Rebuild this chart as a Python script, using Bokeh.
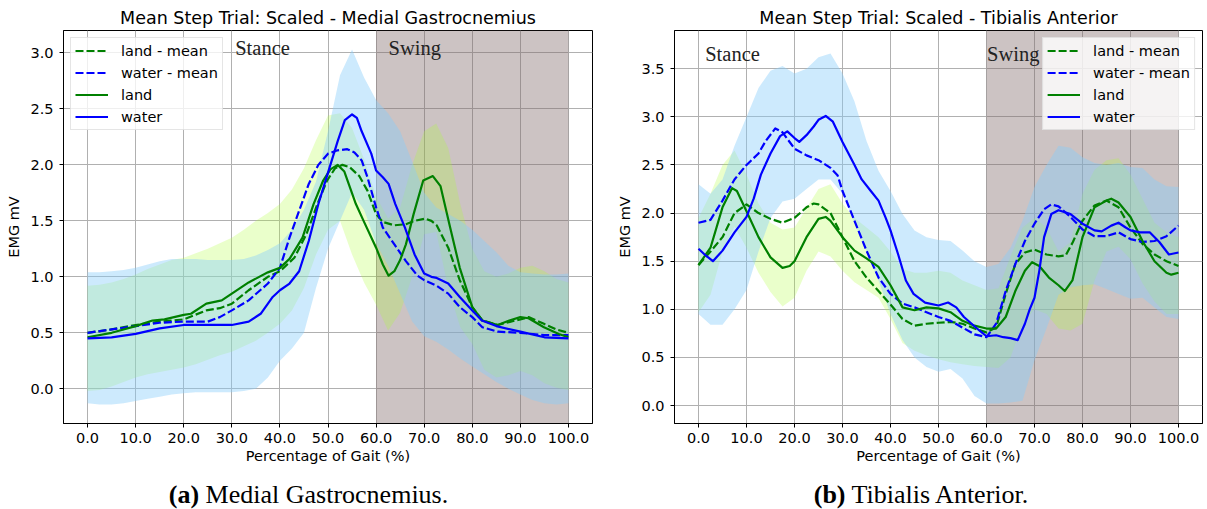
from bokeh.plotting import figure
from bokeh.layouts import row, column
from bokeh.models import (Range1d, FixedTicker, NumeralTickFormatter, Label,
                          BoxAnnotation, Legend, LegendItem, Div)
from bokeh.embed import file_html
from bokeh.resources import INLINE

# ---------------- data ----------------
x_ticks = [0, 10, 20, 30, 40, 50, 60, 70, 80, 90, 100]
swing_start = 60
swing_end = 100

# band grid (percentage of gait)
pct = [0, 2.5, 5, 7.5, 10, 12.5, 15, 17.5, 20, 22.5, 25, 27.5, 30, 32.5, 35, 37.5,
       40, 42.5, 45, 47.5, 50, 52.5, 55, 57.5, 60, 62.5, 65, 67.5, 70, 72.5, 75,
       77.5, 80, 82.5, 85, 87.5, 90, 92.5, 95, 97.5, 100]

# ---- Medial Gastrocnemius ----
mg_yticks = [0.0, 0.5, 1.0, 1.5, 2.0, 2.5, 3.0]

mg_land_mean_x = [0, 5, 10, 15, 20, 24.7, 27.5, 30, 33.5, 37.5, 40, 43, 45.5, 47.8, 49.8, 51.5, 53, 54.5, 56.5, 58.2, 60, 61.4, 63.8, 66.2, 68, 70.2, 71.5, 72.6, 75, 77.4, 80, 82.1, 85.3, 88, 90, 91.7, 94.9, 97.5, 100]
mg_land_mean = [0.50, 0.53, 0.57, 0.60, 0.62, 0.70, 0.72, 0.76, 0.88, 1.00, 1.05, 1.17, 1.38, 1.65, 1.86, 1.97, 2.00, 1.98, 1.90, 1.77, 1.56, 1.49, 1.46, 1.47, 1.50, 1.52, 1.50, 1.46, 1.26, 0.97, 0.73, 0.61, 0.57, 0.60, 0.62, 0.64, 0.58, 0.53, 0.50]

mg_water_mean_x = [0, 5, 10, 15, 20, 25, 27.5, 30, 33.5, 37.5, 40, 42, 44, 46, 48, 50, 52, 54, 55.5, 57, 58.2, 60, 61.4, 63.8, 66.2, 68.6, 70, 72.6, 75, 77.4, 80, 82.1, 85.3, 90, 95, 100]
mg_water_mean = [0.50, 0.53, 0.56, 0.59, 0.60, 0.60, 0.64, 0.70, 0.79, 0.94, 1.08, 1.35, 1.59, 1.83, 2.00, 2.10, 2.13, 2.14, 2.11, 2.04, 1.89, 1.62, 1.44, 1.29, 1.14, 1.01, 0.97, 0.92, 0.85, 0.73, 0.64, 0.55, 0.51, 0.50, 0.48, 0.48]

mg_land_x = [0, 5, 10, 13.5, 16, 20, 21.5, 24.7, 27.9, 30, 33.5, 37.5, 40, 42, 44.7, 47, 49, 50.5, 52, 53.4, 55.8, 57.4, 60, 61.4, 62.6, 63.8, 65, 66.2, 67.8, 69.8, 71.8, 73.4, 75.4, 77.4, 80, 82.1, 85.3, 87.7, 90, 91.7, 94.9, 98, 100]
mg_land = [0.46, 0.50, 0.56, 0.61, 0.62, 0.66, 0.67, 0.76, 0.79, 0.85, 0.95, 1.04, 1.08, 1.16, 1.35, 1.65, 1.86, 1.96, 2.00, 1.94, 1.65, 1.50, 1.26, 1.11, 1.01, 1.05, 1.15, 1.29, 1.56, 1.86, 1.90, 1.81, 1.44, 1.08, 0.73, 0.61, 0.57, 0.61, 0.64, 0.63, 0.55, 0.49, 0.46]

mg_water_x = [0, 5, 10, 15, 20, 25, 30, 33.5, 36, 38.5, 40, 42, 44, 46, 48, 50, 52, 53.5, 55, 56, 57, 59, 60, 61.4, 62.6, 64, 66, 68, 70, 71.5, 72.6, 75, 77.4, 80, 82, 85, 90, 95, 100]
mg_water = [0.45, 0.46, 0.49, 0.54, 0.57, 0.57, 0.57, 0.60, 0.67, 0.82, 0.88, 0.94, 1.05, 1.32, 1.65, 1.93, 2.21, 2.40, 2.45, 2.42, 2.30, 2.10, 1.95, 1.89, 1.83, 1.65, 1.44, 1.20, 1.03, 1.00, 0.99, 0.94, 0.82, 0.70, 0.61, 0.56, 0.51, 0.46, 0.45]

mg_water_upper = [1.04,1.04,1.05,1.06,1.08,1.11,1.14,1.16,1.16,1.16,1.15,1.15,1.15,1.16,1.19,1.24,1.30,1.42,1.60,1.85,2.30,2.80,3.03,2.78,2.58,2.46,2.30,2.03,1.75,1.62,1.56,1.50,1.42,1.32,1.22,1.10,1.04,1.03,1.02,1.02,1.03]
mg_water_lower = [-0.13,-0.14,-0.14,-0.13,-0.11,-0.09,-0.07,-0.05,-0.04,-0.03,-0.03,-0.03,-0.03,-0.02,0.00,0.10,0.25,0.36,0.50,0.90,1.25,1.50,1.75,1.60,1.30,1.10,0.85,0.60,0.47,0.42,0.35,0.27,0.20,0.13,0.06,0.00,-0.05,-0.10,-0.13,-0.14,-0.13]
mg_land_upper = [0.92,0.93,0.95,0.98,1.02,1.07,1.11,1.15,1.17,1.21,1.25,1.30,1.35,1.42,1.50,1.57,1.65,1.78,1.97,2.22,2.44,2.46,2.33,2.05,1.72,1.52,1.62,2.00,2.30,2.37,2.15,1.65,1.25,1.05,1.00,1.03,1.08,1.10,1.05,0.98,0.95]
mg_land_lower = [-0.02,-0.01,0.02,0.06,0.10,0.13,0.15,0.17,0.19,0.22,0.26,0.30,0.33,0.38,0.43,0.50,0.58,0.70,0.90,1.20,1.42,1.50,1.20,0.95,0.75,0.52,0.68,1.00,1.38,1.40,0.90,0.55,0.40,0.17,0.10,0.12,0.16,0.12,0.05,0.01,-0.01]

# ---- Tibialis Anterior ----
ta_yticks = [0.0, 0.5, 1.0, 1.5, 2.0, 2.5, 3.0, 3.5]

ta_land_mean_x = [0, 2.5, 5, 7.5, 10, 12.5, 15, 17.5, 20, 22.5, 24, 25, 27.5, 30, 32.5, 35, 37.5, 40, 42.5, 45, 47.5, 50, 52.5, 55, 57.5, 60, 62, 64, 66, 68, 70, 72.5, 75, 76.5, 78, 80, 82.5, 85, 87.5, 90, 92.5, 95, 97.5, 100]
ta_land_mean = [1.46, 1.60, 1.75, 2.00, 2.09, 2.00, 1.94, 1.90, 1.95, 2.06, 2.10, 2.09, 2.00, 1.75, 1.50, 1.33, 1.19, 1.05, 0.90, 0.83, 0.85, 0.86, 0.87, 0.85, 0.80, 0.76, 0.81, 1.16, 1.47, 1.59, 1.62, 1.57, 1.55, 1.56, 1.70, 1.92, 2.08, 2.13, 2.06, 1.85, 1.68, 1.57, 1.50, 1.45]

ta_water_mean_x = [0, 2.5, 5, 7.5, 10, 12.5, 14, 16, 17.5, 20, 22.5, 25, 27.5, 29, 30, 32.5, 35, 37.5, 40, 42.5, 45, 47.5, 50, 52.5, 55, 57.5, 60, 62, 64, 66, 68, 70, 72, 73.5, 75, 77.5, 80, 82.5, 85, 87.5, 90, 92.5, 95, 97.5, 100]
ta_water_mean = [1.90, 1.93, 2.13, 2.35, 2.50, 2.62, 2.75, 2.88, 2.84, 2.67, 2.60, 2.55, 2.47, 2.39, 2.23, 1.92, 1.61, 1.33, 1.16, 1.06, 1.02, 0.97, 0.92, 0.88, 0.81, 0.74, 0.71, 0.85, 1.19, 1.47, 1.71, 1.89, 2.04, 2.09, 2.07, 1.96, 1.83, 1.76, 1.76, 1.80, 1.73, 1.70, 1.71, 1.76, 1.87]

ta_land_x = [0, 2.5, 5, 7, 8, 10, 12.5, 15, 17.5, 19, 20, 22.5, 25, 26.5, 27.5, 30, 32.5, 35, 37.5, 40, 42.5, 45, 47.5, 50, 52.5, 55, 57.5, 60, 62, 64, 66, 68, 69.5, 71, 73, 75, 76.3, 77.9, 80, 82.5, 85, 86, 87.5, 90, 92.5, 95, 97.5, 98.5, 100]
ta_land = [1.46, 1.64, 2.06, 2.26, 2.23, 2.02, 1.75, 1.54, 1.43, 1.45, 1.50, 1.75, 1.94, 1.96, 1.92, 1.75, 1.61, 1.53, 1.44, 1.25, 1.02, 0.99, 1.02, 1.01, 0.97, 0.88, 0.83, 0.80, 0.80, 0.92, 1.19, 1.40, 1.49, 1.45, 1.33, 1.25, 1.19, 1.30, 1.75, 2.06, 2.13, 2.15, 2.11, 1.96, 1.71, 1.50, 1.38, 1.36, 1.38]

ta_water_x = [0, 1.5, 3, 5, 7.5, 10, 11.5, 13, 15, 17, 18.5, 20, 21, 22.5, 24, 25, 26.5, 28, 30, 32.5, 34, 35.9, 37.5, 39, 40, 41.6, 43.2, 44.8, 47.2, 50, 52, 53.7, 55.3, 56.9, 58.5, 60, 62, 63.5, 65, 66.5, 68, 69, 70, 71, 72, 73.5, 75, 77.5, 80, 82.5, 84, 86, 87.5, 89, 90, 92, 94, 96, 98, 100]
ta_water = [1.63, 1.56, 1.50, 1.61, 1.80, 1.96, 2.15, 2.40, 2.62, 2.80, 2.85, 2.78, 2.74, 2.81, 2.90, 2.97, 3.01, 2.95, 2.74, 2.50, 2.35, 2.23, 2.13, 1.95, 1.82, 1.57, 1.30, 1.16, 1.07, 1.04, 1.07, 1.02, 0.92, 0.85, 0.78, 0.72, 0.73, 0.71, 0.70, 0.68, 0.85, 1.00, 1.12, 1.40, 1.75, 1.99, 2.03, 1.99, 1.89, 1.82, 1.81, 1.87, 1.90, 1.85, 1.82, 1.80, 1.80, 1.70, 1.57, 1.59]

ta_water_upper = [2.30,2.20,2.35,2.70,3.00,3.30,3.48,3.53,3.45,3.50,3.62,3.66,3.45,3.16,2.75,2.44,2.23,1.99,1.82,1.75,1.72,1.71,1.61,1.50,1.44,1.47,1.64,1.92,2.27,2.50,2.70,2.68,2.58,2.52,2.50,2.52,2.48,2.47,2.35,2.28,2.27]
ta_water_lower = [0.95,0.84,0.84,1.00,1.20,1.60,1.95,2.12,2.15,2.25,2.35,2.35,2.20,1.90,1.60,1.30,0.95,0.68,0.50,0.40,0.35,0.38,0.28,0.10,0.02,0.02,0.03,0.05,0.47,0.80,1.15,1.23,1.25,1.26,1.21,1.16,1.11,1.12,1.02,0.92,0.90]
ta_land_upper = [1.95,2.20,2.50,2.65,2.40,2.10,1.90,1.83,1.85,2.05,2.25,2.30,2.10,1.95,1.85,1.75,1.60,1.42,1.38,1.38,1.40,1.38,1.30,1.25,1.20,1.22,1.55,1.85,1.95,1.85,1.60,1.70,2.20,2.45,2.55,2.57,2.40,2.15,1.90,1.80,1.75]
ta_land_lower = [0.97,1.15,1.60,1.86,1.64,1.38,1.18,1.03,1.12,1.40,1.60,1.55,1.40,1.28,1.20,1.12,0.90,0.65,0.57,0.52,0.48,0.45,0.43,0.41,0.40,0.39,0.50,0.85,1.00,0.95,0.80,0.78,0.85,1.30,1.60,1.65,1.52,1.27,1.08,0.95,0.95]

legend_labels = ["land - mean", "water - mean", "land", "water"]

# ---------------- style ----------------
SANS = "DejaVu Sans"
SERIF = "Liberation Serif"
LAND = "#008000"
WATER = "#0000ff"


def make_panel(title, width, min_left, min_right, y_lim, yticks, lines,
               land_lo, land_hi, water_lo, water_hi, phase_pos, legend_loc):
    p = figure(width=width, height=476,
               x_range=Range1d(-5, 105), y_range=Range1d(*y_lim),
               output_backend="svg", toolbar_location=None,
               min_border_left=min_left, min_border_right=min_right,
               min_border_top=30, min_border_bottom=53)
    p.title.text = title
    p.title.text_font = SANS
    p.title.text_font_size = "17.5px"
    p.title.text_font_style = "normal"
    p.title.text_color = "black"
    p.title.align = "center"
    p.title.standoff = 5

    p.outline_line_color = "black"
    p.outline_line_width = 1
    p.background_fill_color = "white"

    p.xaxis.ticker = FixedTicker(ticks=x_ticks)
    p.yaxis.ticker = FixedTicker(ticks=yticks)
    p.xgrid.ticker = FixedTicker(ticks=x_ticks)
    p.ygrid.ticker = FixedTicker(ticks=yticks)
    p.grid.grid_line_color = "#b0b0b0"
    p.grid.grid_line_width = 1

    for ax in (p.xaxis[0], p.yaxis[0]):
        ax.formatter = NumeralTickFormatter(format="0.0")
        ax.major_label_text_font = SANS
        ax.major_label_text_font_size = "14.5px"
        ax.major_label_text_color = "black"
        ax.axis_label_text_font = SANS
        ax.axis_label_text_font_size = "14.5px"
        ax.axis_label_text_font_style = "normal"
        ax.axis_label_text_color = "black"
        ax.major_tick_out = 4
        ax.major_tick_in = 0
        ax.minor_tick_out = 0
        ax.minor_tick_in = 0
        ax.axis_line_color = "black"
        ax.major_tick_line_color = "black"
    p.xaxis.axis_label = "Percentage of Gait (%)"
    p.yaxis.axis_label = "EMG mV"
    p.xaxis.major_label_standoff = 5
    p.yaxis.major_label_standoff = 6
    p.xaxis.axis_label_standoff = 2
    p.yaxis.axis_label_standoff = 5

    # swing phase shading
    p.add_layout(BoxAnnotation(left=swing_start, right=swing_end,
                               fill_color="#806868", fill_alpha=0.4,
                               line_color=None, level="underlay"))

    # bands
    p.varea(x=pct, y1=land_lo, y2=land_hi, fill_color="#adff2f", fill_alpha=0.25)
    p.varea(x=pct, y1=water_lo, y2=water_hi, fill_color="#87cefa", fill_alpha=0.42)

    styles = [(LAND, "8 3"), (WATER, "8 3"), (LAND, "solid"), (WATER, "solid")]
    renderers = []
    for (xs, ys), (col, dash) in zip(lines, styles):
        renderers.append(p.line(xs, ys, line_color=col, line_width=2.2,
                                line_dash=dash, line_join="round"))

    for txt, (tx, ty) in zip(["Stance", "Swing"], phase_pos):
        p.add_layout(Label(x=tx, y=ty, text=txt, text_font=SERIF,
                           text_font_size="20.5px", text_color="#222222",
                           text_baseline="alphabetic", text_align="left"))

    legend = Legend(items=[LegendItem(label=l, renderers=[r])
                           for l, r in zip(legend_labels, renderers)],
                    location=legend_loc)
    legend.label_text_font = SANS
    legend.label_text_font_size = "14.5px"
    legend.label_text_color = "black"
    legend.glyph_width = 33
    legend.glyph_height = 17
    legend.label_standoff = 13
    legend.spacing = 5
    legend.padding = 4
    legend.margin = 7
    legend.border_line_color = "#cccccc"
    legend.border_line_width = 1
    legend.background_fill_color = "white"
    legend.background_fill_alpha = 0.8
    p.add_layout(legend)
    return p


p1 = make_panel("Mean Step Trial: Scaled - Medial Gastrocnemius", 600, 63, 8,
                (-0.31, 3.2), mg_yticks,
                [(mg_land_mean_x, mg_land_mean), (mg_water_mean_x, mg_water_mean),
                 (mg_land_x, mg_land), (mg_water_x, mg_water)],
                mg_land_lower, mg_land_upper, mg_water_lower, mg_water_upper,
                [(30.7, 3.04), (62.6, 3.04)], "top_left")

p2 = make_panel("Mean Step Trial: Scaled - Tibialis Anterior", 607, 74, 5,
                (-0.187, 3.898), ta_yticks,
                [(ta_land_mean_x, ta_land_mean), (ta_water_mean_x, ta_water_mean),
                 (ta_land_x, ta_land), (ta_water_x, ta_water)],
                ta_land_lower, ta_land_upper, ta_water_lower, ta_water_upper,
                [(1.4, 3.65), (60.1, 3.65)], "top_right")


def caption(tag, text, width, pad_left):
    style = ("display:block;box-sizing:border-box;width:%dpx;padding-left:%dpx;"
             "font-family:'Liberation Serif',serif;font-size:26px;line-height:28px;"
             "color:black;text-align:center;white-space:nowrap;" % (width, pad_left))
    return Div(text='<div style="%s"><b>%s</b> %s</div>' % (style, tag, text),
               width=width, height=33)


cap1 = caption("(a)", "Medial Gastrocnemius.", 600, 7)
cap2 = caption("(b)", "Tibialis Anterior.", 607, 5)

layout = column(row(p1, p2), row(cap1, cap2))
open("out.html", "w").write(file_html(layout, INLINE))
